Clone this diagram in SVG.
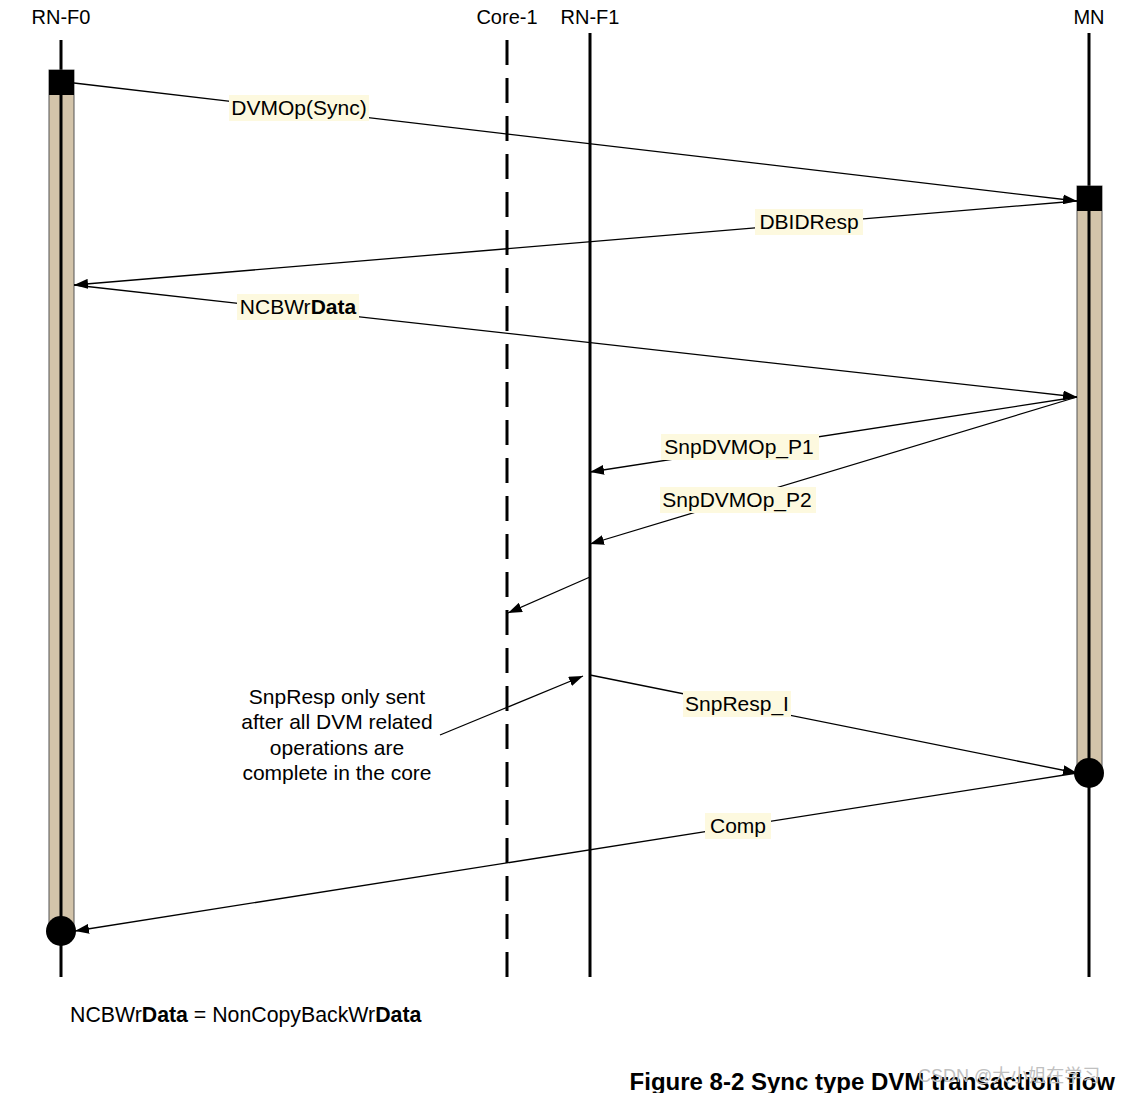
<svg xmlns="http://www.w3.org/2000/svg" width="1123" height="1093" viewBox="0 0 1123 1093">
<style>
text{font-family:"Liberation Sans",Arial,sans-serif;fill:#000}
.hdr{font-size:20px;text-anchor:middle}
.lbl{font-size:21px;text-anchor:middle}
.lbg{fill:#fdf9df}
.life{stroke:#000;stroke-width:3;fill:none}
.bar{fill:#d3c4aa;stroke:#555;stroke-width:1}
.msg{stroke:#000;stroke-width:1.3;fill:none;marker-end:url(#ah)}
</style>
<defs>
<marker id="ah" viewBox="0 0 14 10" refX="14" refY="5" markerWidth="14" markerHeight="10" markerUnits="userSpaceOnUse" orient="auto">
<path d="M0,0 L14,5 L0,10 Z" fill="#000"/>
</marker>
</defs>
<rect width="1123" height="1093" fill="#fff"/>

<g id="rnf0">
<text class="hdr" x="61" y="24">RN-F0</text>
<line class="life" x1="61" y1="40" x2="61" y2="977"/>
<rect class="bar" x="49" y="70" width="25" height="861"/>
<line class="life" x1="61" y1="70" x2="61" y2="931"/>
<rect x="49" y="70" width="25" height="25" fill="#000"/>
<circle cx="61" cy="931" r="15" fill="#000"/>
</g>

<g id="core1">
<text class="hdr" x="507" y="24">Core-1</text>
<line x1="507" y1="40" x2="507" y2="977" stroke="#000" stroke-width="3" stroke-dasharray="25,13"/>
</g>

<g id="rnf1">
<text class="hdr" x="590" y="24">RN-F1</text>
<line class="life" x1="590" y1="33" x2="590" y2="977"/>
</g>

<g id="mn">
<text class="hdr" x="1089" y="24">MN</text>
<line class="life" x1="1089" y1="33" x2="1089" y2="977"/>
<rect class="bar" x="1077" y="186" width="25" height="587"/>
<line class="life" x1="1089" y1="186" x2="1089" y2="773"/>
<rect x="1077" y="186" width="25" height="25" fill="#000"/>
<circle cx="1089" cy="773" r="15" fill="#000"/>
</g>

<g id="connectors">
<line class="msg" x1="74" y1="83" x2="1077" y2="201"/>
<line class="msg" x1="1077" y1="201" x2="74" y2="285"/>
<line class="msg" x1="74" y1="285" x2="1077" y2="397"/>
<line class="msg" x1="1077" y1="397" x2="590" y2="472"/>
<line class="msg" x1="1077" y1="397" x2="590" y2="544"/>
<line class="msg" x1="590" y1="577" x2="508" y2="613"/>
<line class="msg" x1="440" y1="735" x2="583" y2="676"/>
<line class="msg" x1="590" y1="675" x2="1077" y2="773"/>
<line class="msg" x1="1077" y1="773" x2="75" y2="931"/>
</g>

<g id="label-dvmop">
<rect class="lbg" x="229" y="95" width="140" height="26"/>
<text class="lbl" x="299" y="115">DVMOp(Sync)</text>
</g>
<g id="label-dbidresp">
<rect class="lbg" x="755" y="209" width="108" height="26"/>
<text class="lbl" x="809" y="229">DBIDResp</text>
</g>
<g id="label-ncbwrdata">
<rect class="lbg" x="237" y="294" width="122" height="26"/>
<text class="lbl" x="298" y="314">NCBWr<tspan font-weight="bold">Data</tspan></text>
</g>
<g id="label-p1">
<rect class="lbg" x="661" y="434" width="158" height="26"/>
<text class="lbl" x="739" y="454">SnpDVMOp_P1</text>
</g>
<g id="label-p2">
<rect class="lbg" x="660" y="487" width="156" height="26"/>
<text class="lbl" x="737" y="507">SnpDVMOp_P2</text>
</g>
<g id="label-snpresp">
<rect class="lbg" x="683" y="691" width="108" height="26"/>
<text class="lbl" x="737" y="711">SnpResp_I</text>
</g>
<g id="label-comp">
<rect class="lbg" x="705" y="813" width="66" height="26"/>
<text class="lbl" x="738" y="833">Comp</text>
</g>

<g id="note">
<text class="lbl" x="337" y="704">SnpResp only sent</text>
<text class="lbl" x="337" y="729">after all DVM related</text>
<text class="lbl" x="337" y="755">operations are</text>
<text class="lbl" x="337" y="780">complete in the core</text>
</g>

<g id="footer">
<text x="70" y="1022" font-size="21.3">NCBWr<tspan font-weight="bold">Data</tspan> = NonCopyBackWr<tspan font-weight="bold">Data</tspan></text>
<text x="1115" y="1090" font-size="24" font-weight="bold" text-anchor="end">Figure 8-2 Sync type DVM transaction flow</text>
<text x="918" y="1082" font-size="18" style="fill:#c0c0c0;font-family:'Liberation Sans','Noto Sans CJK SC',sans-serif">CSDN @大小姐在学习</text>
</g>
</svg>
